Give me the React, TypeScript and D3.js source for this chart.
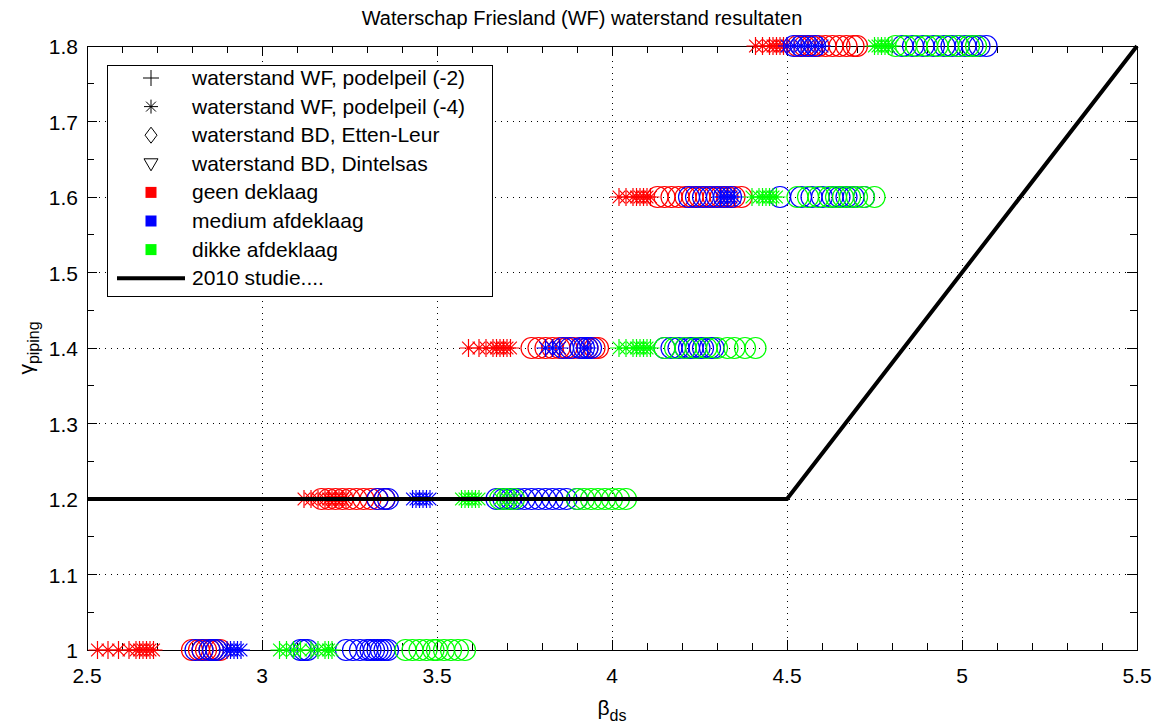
import { useEffect, useRef } from "react";
import * as d3 from "d3";

// gamma levels (one row of markers per level)
const levels = [1.0, 1.2, 1.4, 1.6, 1.8];

// beta_ds values per level, per colour / marker
const redAsterisk = [
  [2.53, 2.56, 2.59, 2.62, 2.64, 2.65, 2.66, 2.67, 2.68, 2.69],
  [3.12, 3.14, 3.16, 3.18, 3.19, 3.2, 3.21, 3.22, 3.23, 3.24],
  [3.59, 3.62, 3.64, 3.66, 3.67, 3.68, 3.69, 3.7, 3.71],
  [4.02, 4.04, 4.06, 4.07, 4.08, 4.09, 4.1, 4.11],
  [4.41, 4.43, 4.45, 4.46, 4.47, 4.48, 4.49, 4.5],
];
const redCircle = [
  [2.8, 2.82, 2.83, 2.84, 2.85, 2.86, 2.87, 2.88],
  [3.17, 3.19, 3.21, 3.23, 3.25, 3.27, 3.29, 3.31, 3.33, 3.35],
  [3.77, 3.79, 3.81, 3.83, 3.85, 3.87, 3.89, 3.91, 3.93, 3.95, 3.96],
  [4.13, 4.15, 4.17, 4.19, 4.21, 4.23, 4.25, 4.27, 4.29, 4.31, 4.33, 4.35, 4.37],
  [4.53, 4.55, 4.57, 4.59, 4.61, 4.63, 4.65, 4.67, 4.69, 4.7],
];
const blueAsterisk = [
  [2.9, 2.91, 2.92, 2.93, 2.94],
  [3.43, 3.44, 3.45, 3.46, 3.47, 3.48],
  [3.81, 3.83, 3.85, 3.92, 3.93],
  [4.31, 4.32, 4.33, 4.34, 4.35],
  [4.5, 4.52, 4.54, 4.56, 4.58, 4.6],
];
const blueCircle = [
  [2.81, 2.83, 2.85, 2.86, 2.87, 3.11, 3.12, 3.13, 3.24, 3.26, 3.28, 3.3, 3.31, 3.32, 3.33, 3.34, 3.35, 3.36],
  [3.33, 3.35, 3.36, 3.67, 3.69, 3.71, 3.73, 3.75, 3.77, 3.79, 3.81, 3.83, 3.85, 3.87, 3.9],
  [3.86, 3.88, 3.91, 3.92, 3.93, 3.94, 4.15, 4.17, 4.19, 4.21, 4.22, 4.23, 4.24, 4.25, 4.26, 4.28, 4.29],
  [4.22, 4.24, 4.26, 4.28, 4.3, 4.32, 4.34, 4.48, 4.54, 4.57, 4.6, 4.63, 4.65, 4.67, 4.69, 4.72],
  [4.52, 4.54, 4.56, 4.58, 4.83, 4.86, 4.89, 4.92, 4.95, 4.97, 4.99, 5.01, 5.03, 5.05, 5.07],
];
const greenAsterisk = [
  [3.05, 3.07, 3.09, 3.11, 3.14, 3.16, 3.18, 3.19, 3.2],
  [3.57, 3.58, 3.59, 3.6, 3.61, 3.62, 3.68, 3.7, 3.72],
  [4.02, 4.04, 4.06, 4.07, 4.08, 4.09, 4.1, 4.11],
  [4.4, 4.42, 4.43, 4.44, 4.45, 4.46, 4.47],
  [4.75, 4.76, 4.77, 4.78, 4.79, 4.8],
];
const greenCircle = [
  [3.41, 3.43, 3.45, 3.47, 3.49, 3.5, 3.52, 3.54, 3.56, 3.58],
  [3.68, 3.7, 3.72, 3.9, 3.92, 3.94, 3.96, 3.98, 4.0, 4.02, 4.04],
  [4.15, 4.18, 4.21, 4.24, 4.27, 4.3, 4.33, 4.35, 4.38, 4.41],
  [4.53, 4.56, 4.59, 4.62, 4.64, 4.66, 4.68, 4.7, 4.72, 4.75],
  [4.81, 4.84, 4.87, 4.9, 4.93, 4.96, 4.99, 5.02, 5.04],
];

// 2010 studie line
const studieX = [2.5, 4.5, 5.5];
const studieY = [1.2, 1.2, 1.8];

const xTicks = [2.5, 3, 3.5, 4, 4.5, 5, 5.5];
const yTicks = [1, 1.1, 1.2, 1.3, 1.4, 1.5, 1.6, 1.7, 1.8];

const legendItems = [
  { label: "waterstand WF, podelpeil (-2)", kind: "plus" },
  { label: "waterstand WF, podelpeil (-4)", kind: "asterisk" },
  { label: "waterstand BD, Etten-Leur", kind: "diamond" },
  { label: "waterstand BD, Dintelsas", kind: "triangle" },
  { label: "geen deklaag", kind: "square", color: "#ff0000" },
  { label: "medium afdeklaag", kind: "square", color: "#0000ff" },
  { label: "dikke afdeklaag", kind: "square", color: "#00ff00" },
  { label: "2010 studie....", kind: "line" },
];

const FONT = "'Liberation Sans', Arial, sans-serif";
const asteriskPath = (r: number) => {
  const d = r * 0.707;
  return `M${-r},0H${r}M0,${-r}V${r}M${-d},${-d}L${d},${d}M${-d},${d}L${d},${-d}`;
};

export default function App() {
  const svgRef = useRef<SVGSVGElement>(null);

  useEffect(() => {
    const width = 1160;
    const height = 727;
    const margin = { top: 46, right: 23, bottom: 77, left: 87 };

    const svg = d3.select(svgRef.current);
    svg.selectAll("*").remove();
    svg.attr("width", width).attr("height", height).style("background", "#fff");

    const x = d3.scaleLinear().domain([2.5, 5.5]).range([margin.left, width - margin.right]);
    const y = d3.scaleLinear().domain([1, 1.8]).range([height - margin.bottom, margin.top]);
    const [x0, x1] = x.range();
    const [y0, y1] = y.range();

    // grid
    const grid = svg.append("g").attr("stroke", "#000").attr("stroke-dasharray", "1,5")
      .attr("stroke-width", 1).attr("shape-rendering", "crispEdges");
    xTicks.slice(1, -1).forEach((t) => {
      grid.append("line").attr("x1", x(t)).attr("x2", x(t)).attr("y1", y0).attr("y2", y1);
    });
    yTicks.slice(1, -1).forEach((t) => {
      grid.append("line").attr("x1", x0).attr("x2", x1).attr("y1", y(t)).attr("y2", y(t));
    });

    // ticks (inward, all four sides)
    const tk = svg.append("g").attr("stroke", "#000").attr("stroke-width", 1).attr("shape-rendering", "crispEdges");
    d3.range(25, 56).map((v) => v / 10).forEach((t) => {
      const major = xTicks.some((m) => Math.abs(m - t) < 1e-6);
      const len = major ? 10 : 7;
      tk.append("line").attr("x1", x(t)).attr("x2", x(t)).attr("y1", y0).attr("y2", y0 - len);
      tk.append("line").attr("x1", x(t)).attr("x2", x(t)).attr("y1", y1).attr("y2", y1 + len);
    });
    d3.range(20, 37).map((v) => v / 20).forEach((t) => {
      const major = yTicks.some((m) => Math.abs(m - t) < 1e-6);
      const len = major ? 10 : 7;
      tk.append("line").attr("x1", x0).attr("x2", x0 + len).attr("y1", y(t)).attr("y2", y(t));
      tk.append("line").attr("x1", x1).attr("x2", x1 - len).attr("y1", y(t)).attr("y2", y(t));
    });

    // axes box
    svg.append("rect")
      .attr("x", x0).attr("y", y1).attr("width", x1 - x0).attr("height", y0 - y1)
      .attr("fill", "none").attr("stroke", "#000").attr("stroke-width", 1).attr("shape-rendering", "crispEdges");

    // tick labels
    svg.append("g").selectAll("text").data(xTicks).join("text")
      .attr("x", (d) => x(d)).attr("y", y0 + 33)
      .attr("text-anchor", "middle").attr("font-family", FONT).attr("font-size", 21)
      .text((d) => String(d));
    svg.append("g").selectAll("text").data(yTicks).join("text")
      .attr("x", x0 - 9).attr("y", (d) => y(d) + 8)
      .attr("text-anchor", "end").attr("font-family", FONT).attr("font-size", 21)
      .text((d) => (d === 1 ? "1" : d3.format(".1f")(d)));

    // markers
    const marks = svg.append("g").attr("fill", "none").attr("stroke-width", 1.2);
    const groups: [number[][], string, string][] = [
      [redAsterisk, "#ff0000", "asterisk"],
      [redCircle, "#ff0000", "circle"],
      [blueAsterisk, "#0000ff", "asterisk"],
      [blueCircle, "#0000ff", "circle"],
      [greenAsterisk, "#00ff00", "asterisk"],
      [greenCircle, "#00ff00", "circle"],
    ];
    groups.forEach(([rows, color, kind]) => {
      rows.forEach((vals, i) => {
        vals.forEach((v) => {
          if (kind === "circle") {
            marks.append("circle").attr("cx", x(v)).attr("cy", y(levels[i])).attr("r", 10.5).attr("stroke", color);
          } else {
            marks.append("path")
              .attr("transform", `translate(${x(v)},${y(levels[i])})`)
              .attr("d", asteriskPath(9)).attr("stroke", color);
          }
        });
      });
    });

    // 2010 studie line
    const line = d3.line<number>().x((d) => x(d)).y((_, i) => y(studieY[i]));
    svg.append("path").datum(studieX)
      .attr("fill", "none").attr("stroke", "#000").attr("stroke-width", 4).attr("d", line);

    // legend
    const lg = svg.append("g");
    lg.append("rect").attr("x", 107).attr("y", 65).attr("width", 385).attr("height", 231)
      .attr("fill", "#fff").attr("stroke", "#000").attr("stroke-width", 1).attr("shape-rendering", "crispEdges");
    legendItems.forEach((it, i) => {
      const cy = 78 + i * 28.6;
      const mx = 151;
      const g = lg.append("g").attr("transform", `translate(${mx},${cy})`);
      if (it.kind === "plus") {
        g.append("path").attr("d", "M-8,0H8M0,-8V8").attr("stroke", "#000").attr("fill", "none");
      } else if (it.kind === "asterisk") {
        g.append("path").attr("d", asteriskPath(7)).attr("stroke", "#000").attr("fill", "none");
      } else if (it.kind === "diamond") {
        g.append("path").attr("d", "M0,-8L6,0L0,8L-6,0Z").attr("stroke", "#000").attr("fill", "none");
      } else if (it.kind === "triangle") {
        g.append("path").attr("d", "M-7,-5L7,-5L0,7Z").attr("stroke", "#000").attr("fill", "none");
      } else if (it.kind === "square") {
        g.append("rect").attr("x", -5.5).attr("y", -5.5).attr("width", 11).attr("height", 11).attr("fill", it.color!);
      } else {
        g.append("line").attr("x1", -34).attr("x2", 34).attr("y1", 0).attr("y2", 0)
          .attr("stroke", "#000").attr("stroke-width", 4);
      }
      lg.append("text").attr("x", 192).attr("y", cy + 7)
        .attr("font-family", FONT).attr("font-size", 21).text(it.label);
    });

    // title
    svg.append("text").attr("x", (x0 + x1) / 2 - 30).attr("y", 25)
      .attr("text-anchor", "middle").attr("font-family", FONT).attr("font-size", 20)
      .text("Waterschap Friesland (WF) waterstand resultaten");

    // axis labels
    const xl = svg.append("text").attr("x", (x0 + x1) / 2).attr("y", 715)
      .attr("text-anchor", "middle").attr("font-family", FONT).attr("font-size", 21);
    xl.append("tspan").text("β");
    xl.append("tspan").attr("font-size", 16).attr("dy", 6).text("ds");

    const yl = svg.append("text")
      .attr("transform", `translate(33,${(y0 + y1) / 2}) rotate(-90)`)
      .attr("text-anchor", "middle").attr("font-family", FONT).attr("font-size", 21);
    yl.append("tspan").text("γ");
    yl.append("tspan").attr("font-size", 16).attr("dy", 6).text("piping");
  }, []);

  return <svg ref={svgRef} style={{ position: "absolute", left: 0, top: 0 }}></svg>;
}
